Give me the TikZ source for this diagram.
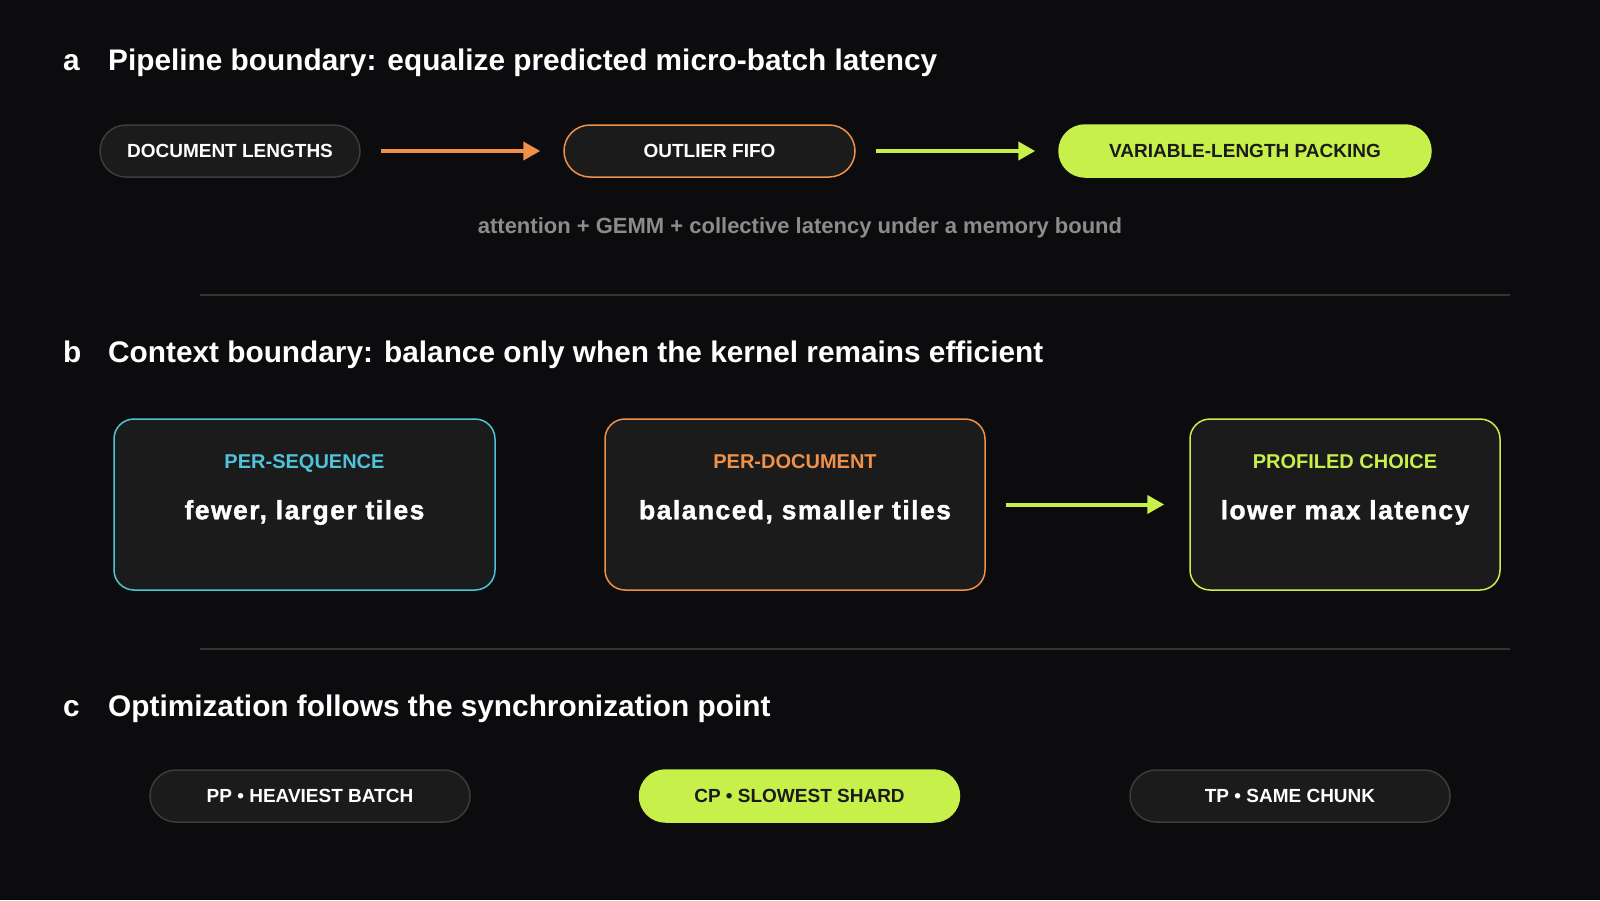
\documentclass[tikz,border=0pt]{standalone}
\usepackage{fontspec}
\setmainfont{Liberation Sans}
\newfontfamily\claimfont[LetterSpace=5.5, FakeBold=1.5]{Liberation Sans Bold}
\usetikzlibrary{positioning,arrows.meta}

\definecolor{bgcol}{HTML}{0C0C0E}
\definecolor{fillcol}{HTML}{1A1B1A}
\definecolor{edgecol}{HTML}{3C3C3C}
\definecolor{rulecol}{HTML}{333533}
\definecolor{orangecol}{HTML}{F0914A}
\definecolor{limecol}{HTML}{C8F04A}
\definecolor{cyancol}{HTML}{4EC3DA}
\definecolor{greycol}{HTML}{8C8C8C}

\tikzset{
    heading/.style={anchor=base west, text=white, font=\fontsize{29.8}{34}\selectfont\bfseries, inner sep=0pt},
    pill/.style={rectangle, rounded corners=26pt, minimum height=52pt, draw=edgecol, line width=1.5pt, fill=fillcol, text=white, font=\fontsize{19}{22}\selectfont\bfseries},
    hotpill/.style={pill, draw=limecol, fill=limecol, text=fillcol},
    panel/.style={rectangle, rounded corners=20pt, minimum height=171pt, line width=1.5pt, fill=fillcol},
    tag/.style={anchor=base, font=\fontsize{20}{23}\selectfont\bfseries, inner sep=0pt},
    claim/.style={anchor=base, text=white, font=\claimfont\fontsize{26.5}{30}\selectfont, inner sep=0pt},
    flow/.style={line width=4pt, -{Triangle[length=17pt,width=18pt]}, shorten <=20pt, shorten >=23pt},
}

\begin{document}
\begin{tikzpicture}[x=1pt, y=-1pt]
                \fill[bgcol] (0,0) rectangle (1600,900);
                \useasboundingbox (0,0) rectangle (1600,900);

                \node[heading] (tita) at (63,70) {a};
                \node[heading] at (108,70) {Pipeline boundary: equalize predicted micro-batch latency};
                \node[pill, minimum width=260pt] (doclen) at (230,151) {DOCUMENT LENGTHS};
                \node[pill, draw=orangecol, minimum width=291pt] (fifo) at (709.5,151) {OUTLIER FIFO};
                \node[hotpill, minimum width=372pt] (packing) at (1245,151) {VARIABLE-LENGTH PACKING};
                \node[text=greycol, font=\fontsize{22}{25}\selectfont\bfseries] (cost) at (800,228) {attention + GEMM + collective latency under a memory bound};
                \draw[flow, orangecol] (doclen) -- (fifo);
                \draw[flow, limecol] (fifo) -- (packing);

                \draw[rulecol, line width=1.2pt] (200,295) -- (1510,295);

                \node[heading] (titb) at (63,362) {b};
                \node[heading] at (108,362) {Context boundary: balance only when the kernel remains efficient};
                \node[panel, draw=cyancol, minimum width=381pt] (perseq) at (304.5,504.5) {};
                \node[panel, draw=orangecol, minimum width=380pt] (perdoc) at (795,504.5) {};
                \node[panel, draw=limecol, minimum width=310pt] (profiled) at (1345,504.5) {};
                \node[tag, text=cyancol] (seqtag) at ([yshift=-50pt]perseq.north) {PER-SEQUENCE};
                \node[tag, text=orangecol] (doctag) at ([yshift=-50pt]perdoc.north) {PER-DOCUMENT};
                \node[tag, text=limecol] (proftag) at ([yshift=-50pt]profiled.north) {PROFILED CHOICE};
                \node[claim] at ([yshift=-101pt]perseq.north) {fewer, larger tiles};
                \node[claim] at ([yshift=-101pt]perdoc.north) {balanced, smaller tiles};
                \node[claim] at ([yshift=-101pt]profiled.north) {lower max latency};
                \draw[flow, limecol, shorten >=25pt] (perdoc) -- (profiled);

                \draw[rulecol, line width=1.2pt] (200,649) -- (1510,649);

                \node[heading] (titc) at (63,716) {c};
                \node[heading] at (108,716) {Optimization follows the synchronization point};
                \node[pill, minimum width=320pt] (ppnode) at (310,796) {PP \textbullet{} HEAVIEST BATCH};
                \node[hotpill, minimum width=320pt] (cpnode) at (799.5,796) {CP \textbullet{} SLOWEST SHARD};
                \node[pill, minimum width=320pt] (tpnode) at (1290,796) {TP \textbullet{} SAME CHUNK};
            \end{tikzpicture}
\end{document}
